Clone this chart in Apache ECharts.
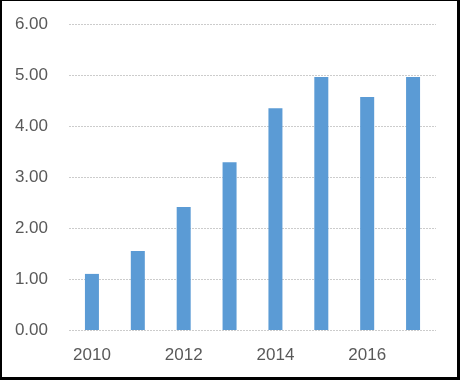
<!DOCTYPE html>
<html>
<head>
<meta charset="utf-8">
<script src="https://cdn.jsdelivr.net/npm/echarts@6/dist/echarts.min.js"></script>
<style>
html,body{margin:0;padding:0;background:#fff;}
#wrap{position:relative;width:460px;height:380px;}
#chart{position:absolute;left:0;top:0;width:460px;height:380px;}
#frame{position:absolute;left:0;top:0;width:460px;height:380px;box-sizing:border-box;border-style:solid;border-color:#000;border-width:1px 3px 3px 2px;pointer-events:none;}
</style>
</head>
<body>
<div id="wrap"><div id="chart"></div><div id="frame"></div></div>
<script>
const years = ['2010','2011','2012','2013','2014','2015','2016','2017'];
const values = [1.10, 1.55, 2.41, 3.29, 4.35, 4.96, 4.57, 4.96];
const yTicks = [0, 1, 2, 3, 4, 5, 6];

const chart = echarts.init(document.getElementById('chart'), null, {renderer:'canvas'});
chart.setOption({
  animation: false,
  grid: {left: 69, right: 24, top: 24, bottom: 50, containLabel: false},
  xAxis: {
    type: 'category',
    data: years,
    axisLine: {show: false},
    axisTick: {show: false},
    axisLabel: {
      interval: 1,
      color: '#595959',
      fontFamily: 'Liberation Sans, Arial, sans-serif',
      fontSize: 17,
      margin: 17
    }
  },
  yAxis: {
    type: 'value',
    min: yTicks[0],
    max: yTicks[yTicks.length - 1],
    interval: 1,
    axisLine: {show: false},
    axisTick: {show: false},
    axisLabel: {
      color: '#595959',
      fontFamily: 'Liberation Sans, Arial, sans-serif',
      fontSize: 17,
      margin: 21,
      formatter: v => v.toFixed(2)
    },
    splitLine: {lineStyle: {color: '#cccccc', type: [2, 1], width: 1}}
  },
  series: [{
    type: 'bar',
    data: values,
    barWidth: 14,
    itemStyle: {color: '#5b9bd5'}
  }]
});
</script>
</body>
</html>
